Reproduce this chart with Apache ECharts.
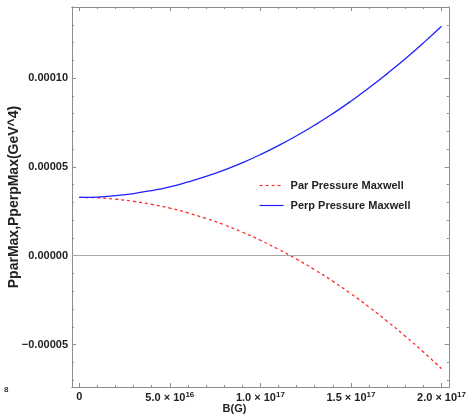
<!DOCTYPE html>
<html>
<head>
<meta charset="utf-8">
<script src="https://cdn.jsdelivr.net/npm/echarts@6/dist/echarts.min.js"></script>
<style>
  html, body { margin: 0; padding: 0; background: #fff; }
  #chart { width: 469px; height: 420px; }
</style>
</head>
<body>
<div id="chart"></div>
<script>
// Magnetic field strength B in gauss
var fieldB = [0, 1e16, 2e16, 3e16, 4e16, 5e16, 6e16, 7e16, 8e16, 9e16, 1e17,
              1.1e17, 1.2e17, 1.3e17, 1.4e17, 1.5e17, 1.6e17, 1.7e17, 1.8e17, 1.9e17, 2e17];

// Parallel pressure (GeV^4)
var parPressure = [3.28e-5, 3.26e-5, 3.18e-5, 3.06e-5, 2.89e-5, 2.68e-5, 2.41e-5, 2.10e-5, 1.74e-5, 1.33e-5, 0.87e-5,
                   0.36e-5, -0.19e-5, -0.79e-5, -1.44e-5, -2.14e-5, -2.89e-5, -3.69e-5, -4.53e-5, -5.42e-5, -6.36e-5];

// Perpendicular pressure (GeV^4)
var perpPressure = [3.28e-5, 3.30e-5, 3.38e-5, 3.50e-5, 3.67e-5, 3.88e-5, 4.15e-5, 4.46e-5, 4.82e-5, 5.23e-5, 5.69e-5,
                    6.20e-5, 6.75e-5, 7.35e-5, 8.00e-5, 8.70e-5, 9.45e-5, 10.25e-5, 11.09e-5, 11.98e-5, 12.92e-5];

// Tick positions
var xMajorTicks = [0, 5e16, 1e17, 1.5e17, 2e17];
var xMinorTicks = [0, 1e16, 2e16, 3e16, 4e16, 5e16, 6e16, 7e16, 8e16, 9e16, 1e17,
                   1.1e17, 1.2e17, 1.3e17, 1.4e17, 1.5e17, 1.6e17, 1.7e17, 1.8e17, 1.9e17, 2e17];
var yMajorTicks = [-5e-5, 0, 5e-5, 1e-4];
var yMinorTicks = [-7e-5, -6e-5, -5e-5, -4e-5, -3e-5, -2e-5, -1e-5, 0, 1e-5, 2e-5, 3e-5, 4e-5,
                   5e-5, 6e-5, 7e-5, 8e-5, 9e-5, 1e-4, 1.1e-4, 1.2e-4, 1.3e-4];
var yTickLabels = ['\u22120.00005', '0.00000', '0.00005', '0.00010'];
var xTickLabels = ['0', '5.0 \u00d7 10|16', '1.0 \u00d7 10|17', '1.5 \u00d7 10|17', '2.0 \u00d7 10|17'];

var X_MIN = -4e15, X_MAX = 2.04e17;
var Y_MIN = -7.39e-5, Y_MAX = 1.40e-4;
var FRAME = '#8c8c8c';
var FONT = '"Liberation Sans", Arial, sans-serif';

function pairs(xs, ys) {
  return xs.map(function (x, i) { return [x, ys[i]]; });
}

function xAxisDef(pos, ticks, len, labels) {
  return {
    type: 'value', position: pos, min: X_MIN, max: X_MAX,
    axisLine: { show: true, onZero: false, lineStyle: { color: FRAME, width: 1 } },
    axisTick: { show: true, inside: true, length: len, customValues: ticks, lineStyle: { color: FRAME } },
    axisLabel: labels ? {
      show: true, customValues: ticks, margin: 4,
      formatter: function (v) {
        var i = xMajorTicks.indexOf(v);
        var t = xTickLabels[i];
        if (t.indexOf('|') < 0) return '{b|' + t + '}';
        var p = t.split('|');
        return '{b|' + p[0] + '}{s|' + p[1] + '}';
      },
      rich: {
        b: { fontFamily: FONT, fontWeight: 'bold', fontSize: 11, color: '#222' },
        s: { fontFamily: FONT, fontWeight: 'bold', fontSize: 8, color: '#222', padding: [0, 0, 6, 0] }
      }
    } : { show: false },
    splitLine: { show: false }
  };
}

function yAxisDef(pos, ticks, len, labels) {
  return {
    type: 'value', position: pos, min: Y_MIN, max: Y_MAX,
    axisLine: { show: true, onZero: false, lineStyle: { color: FRAME, width: 1 } },
    axisTick: { show: true, inside: true, length: len, customValues: ticks, lineStyle: { color: FRAME } },
    axisLabel: labels ? {
      show: true, customValues: ticks, margin: 4,
      fontFamily: FONT, fontWeight: 'bold', fontSize: 11, color: '#222',
      formatter: function (v) {
        var best = 0, d = Infinity;
        yMajorTicks.forEach(function (t, i) { var e = Math.abs(t - v); if (e < d) { d = e; best = i; } });
        return yTickLabels[best];
      }
    } : { show: false },
    splitLine: { show: false }
  };
}

var chart = echarts.init(document.getElementById('chart'), null, { renderer: 'canvas' });

chart.setOption({
  backgroundColor: '#ffffff',
  animation: false,
  grid: { left: 72, right: 17, top: 7, bottom: 33, containLabel: false },
  xAxis: [
    xAxisDef('bottom', xMajorTicks, 4, true),
    xAxisDef('bottom', xMinorTicks, 2, false),
    xAxisDef('top', xMajorTicks, 4, false),
    xAxisDef('top', xMinorTicks, 2, false)
  ],
  yAxis: [
    yAxisDef('left', yMajorTicks, 4, true),
    yAxisDef('left', yMinorTicks, 2, false),
    yAxisDef('right', yMajorTicks, 4, false),
    yAxisDef('right', yMinorTicks, 2, false)
  ],
  legend: {
    orient: 'vertical', left: 259, top: 180, padding: 0,
    itemWidth: 24, itemHeight: 10, itemGap: 9,
    itemStyle: { opacity: 0 },
    lineStyle: { width: 1.2 },
    textStyle: { fontFamily: FONT, fontWeight: 'bold', fontSize: 11, color: '#222', padding: [0, 0, 0, 2] },
    data: ['Par Pressure Maxwell', 'Perp Pressure Maxwell']
  },
  series: [
    {
      name: 'Par Pressure Maxwell', type: 'line', xAxisIndex: 0, yAxisIndex: 0,
      data: pairs(fieldB, parPressure), smooth: true, symbol: 'none',
      itemStyle: { color: '#ff2a2a' },
      lineStyle: { color: '#ff2a2a', width: 1.3, type: [3, 3] },
      markLine: {
        silent: true, symbol: 'none', label: { show: false },
        lineStyle: { color: '#a6a6a6', width: 1, type: 'solid' },
        data: [{ yAxis: 0 }]
      },
      z: 3
    },
    {
      name: 'Perp Pressure Maxwell', type: 'line', xAxisIndex: 0, yAxisIndex: 0,
      data: pairs(fieldB, perpPressure), smooth: true, symbol: 'none',
      itemStyle: { color: '#2020ff' },
      lineStyle: { color: '#2020ff', width: 1.3 },
      z: 3
    }
  ],
  graphic: [
    {
      type: 'text', left: 'center', top: 403,
      style: { text: 'B(G)', font: 'bold 11px ' + FONT, fill: '#222' }
    },
    {
      type: 'text', x: 14, y: 197, rotation: Math.PI / 2,
      style: { text: 'PparMax,PperpMax(GeV^4)', font: 'bold 14px ' + FONT, fill: '#222', align: 'center', verticalAlign: 'middle' }
    },
    {
      type: 'text', x: 4, y: 386,
      style: { text: '8', font: 'bold 8px ' + FONT, fill: '#333' }
    }
  ]
});
</script>
</body>
</html>
